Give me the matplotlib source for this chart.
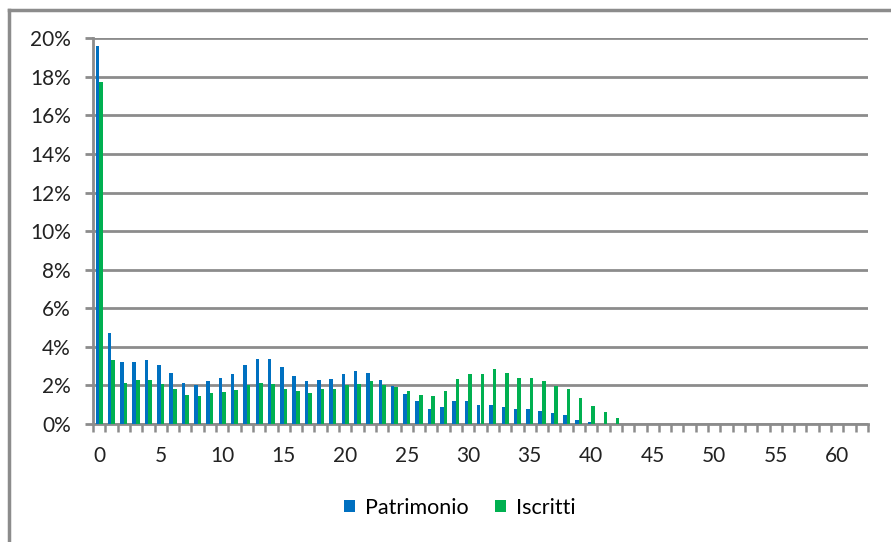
import numpy as np
import matplotlib
matplotlib.use("Agg")
import matplotlib.pyplot as plt
from matplotlib.lines import Line2D
from matplotlib.patches import Patch
from matplotlib.ticker import FuncFormatter

categories = list(range(0, 63))
patrimonio = [19.6, 4.71, 3.19, 3.19, 3.32, 3.06, 2.64, 2.14, 2.0, 2.21,
              2.38, 2.57, 3.06, 3.37, 3.37, 2.97, 2.48, 2.24, 2.29, 2.35,
              2.6, 2.73, 2.62, 2.29, 1.98, 1.57, 1.19, 0.76, 0.9, 1.21,
              1.19, 1.0, 1.0, 0.88, 0.76, 0.76, 0.7, 0.56, 0.45, 0.22,
              0.08, 0.0, 0.0] + [0.0] * 20
iscritti = [17.75, 3.32, 2.12, 2.26, 2.26, 2.05, 1.83, 1.52, 1.47, 1.59,
            1.64, 1.78, 2.0, 2.14, 2.05, 1.83, 1.69, 1.62, 1.79, 1.79,
            2.0, 2.1, 2.24, 2.04, 1.93, 1.72, 1.48, 1.43, 1.72, 2.35,
            2.6, 2.6, 2.84, 2.67, 2.41, 2.41, 2.24, 1.95, 1.79, 1.36,
            0.93, 0.62, 0.33] + [0.0] * 20
xtick_labels = list(range(0, 61, 5))
ytick_vals = list(range(0, 21, 2))

BLUE = "#0070C0"
GREEN = "#00B050"
GRID = "#8c8c8c"
FONT = "Lato"
FS = 15

W, H = 891, 542
fig = plt.figure(figsize=(W / 100, H / 100), dpi=100)
plt.rcParams["font.family"] = [FONT, "DejaVu Sans"]

left, right, bottom, top = 93, 868, 424, 38.3
ax = fig.add_axes([left / W, 1 - bottom / H, (right - left) / W, (bottom - top) / H])

x = np.array(categories)
bw = 0.29
ax.bar(x - bw / 2, patrimonio, width=bw, color=BLUE, zorder=3, label="Patrimonio")
ax.bar(x + bw / 2, iscritti, width=bw, color=GREEN, zorder=3, label="Iscritti")

ax.set_xlim(-0.5, 62.5)
ax.set_ylim(0, 20)
ax.set_yticks(ytick_vals)
ax.yaxis.set_major_formatter(FuncFormatter(lambda v, p: f"{int(v)}%"))
ax.set_xticks(xtick_labels)
ax.set_xticks(np.arange(-0.5, 63, 1), minor=True)

ax.grid(axis="y", color=GRID, linewidth=2, zorder=0)
ax.tick_params(axis="y", which="major", length=6, width=2, color=GRID,
               labelsize=FS, pad=10, labelcolor="#222222")
ax.tick_params(axis="x", which="major", length=0, labelsize=FS, pad=16,
               labelcolor="#222222")
ax.tick_params(axis="x", which="minor", length=6, width=1.8, color=GRID)

for s in ["top", "right"]:
    ax.spines[s].set_visible(False)
ax.spines["left"].set_color(GRID)
ax.spines["left"].set_linewidth(2)
ax.spines["bottom"].set_color(GRID)
ax.spines["bottom"].set_linewidth(2)

# outer chart border (top and left visible)
fig.add_artist(Line2D([9 / W, 1.01], [1 - 10 / H, 1 - 10 / H], color=GRID,
                      linewidth=2.5, transform=fig.transFigure))
fig.add_artist(Line2D([9 / W, 9 / W], [1 - 10 / H, -0.01], color=GRID,
                      linewidth=2.5, transform=fig.transFigure))

handles = [Patch(facecolor=BLUE, label="Patrimonio"),
           Patch(facecolor=GREEN, label="Iscritti")]
fig.legend(handles=handles, loc="center", bbox_to_anchor=(460 / W, 1 - 508 / H),
           ncol=2, frameon=False, fontsize=15.5, handlelength=0.5,
           handleheight=0.5, handletextpad=0.5, columnspacing=1.2)

fig.savefig("out.png", dpi=100)
